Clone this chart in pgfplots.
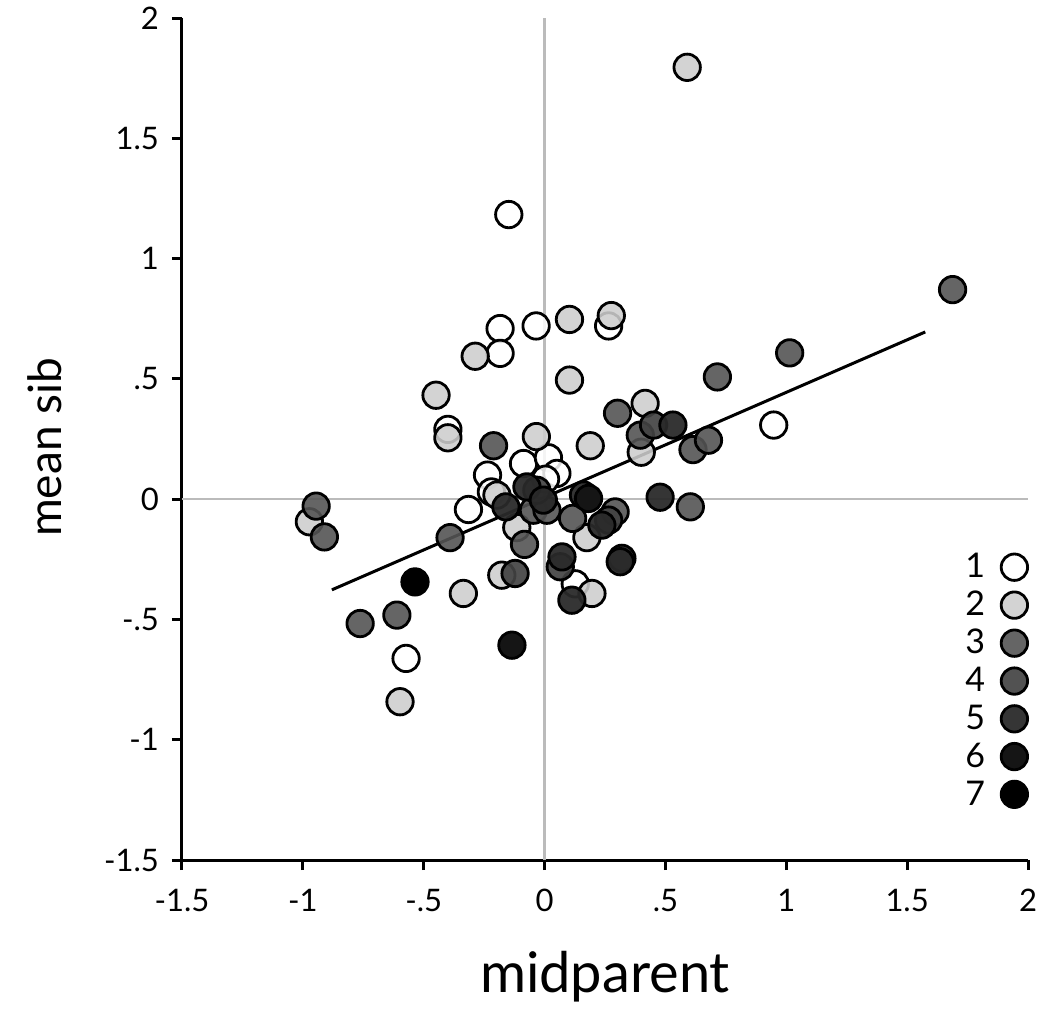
\documentclass[border=0pt]{standalone}
\usepackage{fontspec}
\setmainfont{Lato}
\usepackage{pgfplots}
\pgfplotsset{compat=1.18}

\definecolor{gA}{HTML}{FFFFFF}
\definecolor{gB}{HTML}{CDCDCD}
\definecolor{gC}{HTML}{545454}
\definecolor{gD}{HTML}{434343}
\definecolor{gE}{HTML}{2A2A2A}
\definecolor{gF}{HTML}{151515}
\definecolor{gG}{HTML}{000000}
\definecolor{refgray}{HTML}{BBBBBB}

\pgfplotsset{
  sib/.style 2 args={only marks, mark=*, mark size=6.6pt,
    mark options={draw=black, line width=1.4pt, fill=#1, fill opacity=#2}},
}

\begin{document}
\begin{tikzpicture}
\path[use as bounding box] (-91pt,-74pt) rectangle (430.5pt,430pt);
\begin{axis}[
  at={(0,0)}, anchor=south west,
  scale only axis, width=423pt, height=421pt,
  xmin=-1.5, xmax=2, ymin=-1.5, ymax=2,
  axis x line=bottom, axis y line=left,
  axis line style={-, line width=1.5pt},
  tick align=outside, major tick length=5pt,
  tick style={black, line width=1.5pt},
  xtick={-1.5,-1,-0.5,0,0.5,1,1.5,2},
  xticklabels={-1.5,-1,-.5,0,.5,1,1.5,2},
  ytick={-1.5,-1,-0.5,0,0.5,1,1.5,2},
  yticklabels={-1.5,-1,-.5,0,.5,1,1.5,2},
  ticklabel style={font=\fontsize{15.5}{18}\selectfont},
  xticklabel style={yshift=-6pt},
  yticklabel style={xshift=-3pt},
  xlabel={midparent},
  ylabel={mean sib},
  xlabel style={font=\fontsize{28}{32}\selectfont, at={(axis description cs:0.5,-0.138)}, anchor=center},
  ylabel style={font=\fontsize{23}{28}\selectfont, at={(axis description cs:-0.162,0.49)}, anchor=center},
  clip=false,
  legend style={at={(axis description cs:1.0,0.374)}, anchor=north east,
    draw=none, fill=none, font=\fontsize{17}{19}\selectfont,
    row sep=1.2pt, column sep=6pt, inner xsep=0pt},
  legend plot pos=right,
  legend cell align=right,
]
% reference lines at zero
\addplot[forget plot, refgray, line width=1.2pt] coordinates {(0,-1.5) (0,2)};
\addplot[forget plot, refgray, line width=1.2pt] coordinates {(-1.5,0) (2,0)};

% 1
\addplot[sib={gA}{0.85}] coordinates {
(-0.148,1.183) (-0.184,0.709) (-0.035,0.720) (0.265,0.720) (-0.184,0.606)
(-0.400,0.290) (0.948,0.308) (-0.087,0.148) (0.016,0.172) (0.051,0.107)
(0.004,0.083) (-0.236,0.100) (-0.220,0.030) (-0.315,-0.043) (0.127,-0.352)
(-0.573,-0.662)
};
% 2
\addplot[sib={gB}{0.88}] coordinates {
(0.590,1.795) (0.103,0.747) (0.276,0.763) (-0.287,0.594) (0.103,0.495)
(-0.449,0.432) (0.416,0.398) (-0.400,0.255) (-0.034,0.260) (0.189,0.222)
(0.400,0.195) (-0.197,0.017) (-0.115,-0.118) (0.175,-0.160) (-0.177,-0.316)
(0.196,-0.392) (-0.336,-0.392) (-0.973,-0.094) (-0.598,-0.842)
};
% 3
\addplot[sib={gC}{0.9}] coordinates {
(1.688,0.871) (1.014,0.608) (0.715,0.508) (0.302,0.357) (0.396,0.266)
(0.614,0.206) (0.678,0.245) (-0.211,0.222) (0.603,-0.032) (-0.046,-0.046)
(0.010,-0.046) (0.116,-0.080) (0.292,-0.053) (-0.391,-0.160) (-0.083,-0.188)
(-0.611,-0.482) (-0.763,-0.517) (-0.945,-0.029) (-0.911,-0.157)
};
% 4
\addplot[sib={gD}{0.92}] coordinates {
(0.451,0.308) (-0.032,0.037) (0.265,-0.087) (-0.122,-0.309) (0.065,-0.281)
};
% 5
\addplot[sib={gE}{0.95}] coordinates {
(0.531,0.308) (-0.073,0.051) (-0.005,-0.004) (0.161,0.017) (0.478,0.008)
(0.237,-0.108) (0.320,-0.246) (0.313,-0.260) (0.072,-0.240) (0.113,-0.420)
(-0.160,-0.032)
};
% 6
\addplot[sib={gF}{1}] coordinates {
(0.182,0.003) (-0.135,-0.607)
};
% 7
\addplot[sib={gG}{1}] coordinates {
(-0.536,-0.344)
};

% fitted line
\addplot[forget plot, black, line width=1.5pt] coordinates {(-0.880,-0.377) (1.575,0.695)};

\legend{1,2,3,4,5,6,7}
\end{axis}
\end{tikzpicture}
\end{document}
